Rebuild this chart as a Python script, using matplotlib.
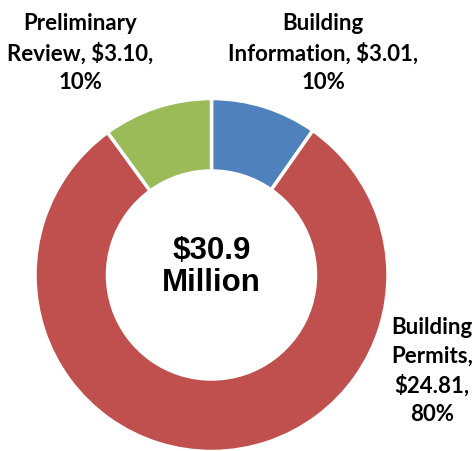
import matplotlib
matplotlib.use("Agg")
import matplotlib.pyplot as plt

categories = ["Building Information", "Building Permits", "Preliminary Review"]
values = [3.01, 24.81, 3.10]
shares = ["10%", "80%", "10%"]
colors = ["#4F81BD", "#C0504D", "#9BBB59"]
total_label = "$30.9\nMillion"

fig = plt.figure(figsize=(4.75, 4.51), dpi=100)
ax = fig.add_axes([0, 0, 1, 1])

# donut, clockwise from 12 o'clock
ax.pie(values, colors=colors, startangle=90, counterclock=False,
       center=(211.5, 176), radius=176.5, frame=True,
       wedgeprops=dict(width=72.5, edgecolor="white", linewidth=2.5))
ax.set_xlim(0, 475)
ax.set_ylim(0, 451)
ax.axis("off")

lab_font = dict(family="Lato", fontweight="bold", fontsize=16,
                ha="center", va="center", linespacing=1.42)

# Building Information
ax.text(323, 398, "Building\nInformation, $%.2f,\n%s" % (values[0], shares[0]), **lab_font)
# Preliminary Review
ax.text(80, 398, "Preliminary\nReview, $%.2f,\n%s" % (values[2], shares[2]), **lab_font)
# Building Permits
ax.text(432, 80, "Building\nPermits,\n$%.2f,\n%s" % (values[1], shares[1]), **lab_font)

ax.text(211.5, 184, total_label, family="Liberation Sans", fontweight="bold",
        fontsize=22.5, ha="center", va="center", linespacing=1.1)

fig.savefig("out.png", dpi=100)
